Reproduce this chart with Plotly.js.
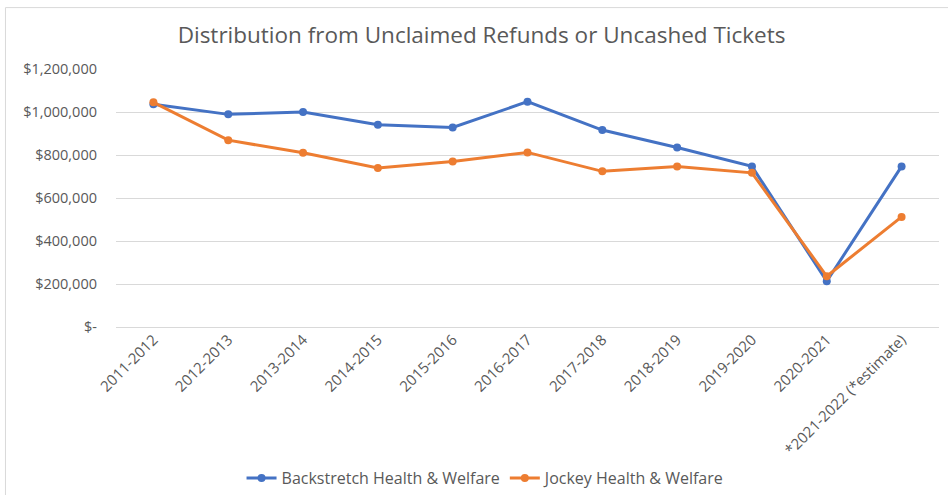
<!DOCTYPE html>
<html>
<head>
<meta charset="utf-8">
<script src="https://cdn.plot.ly/plotly-3.0.1.min.js"></script>
<style>
html,body{margin:0;padding:0;background:#fff;}
#chart{width:948px;height:495px;}
</style>
</head>
<body>
<div id="chart"></div>
<script>
const categories = ["2011-2012","2012-2013","2013-2014","2014-2015","2015-2016","2016-2017","2017-2018","2018-2019","2019-2020","2020-2021","*2021-2022 (*estimate)"];
const backstretch = [1036000, 989000, 1000000, 941000, 928000, 1048000, 916000, 835000, 747000, 213000, 747000];
const jockey = [1045000, 869000, 810000, 740000, 770000, 812000, 724000, 747000, 717000, 236000, 512000];
const seriesNames = ["Backstretch Health & Welfare", "Jockey Health & Welfare"];
const yTickVals = [0, 200000, 400000, 600000, 800000, 1000000, 1200000];
const yTickText = yTickVals.map(v => v === 0 ? "$-" : "$" + v.toLocaleString("en-US"));

const font = "Open Sans, Noto Sans, sans-serif";
const gray = "#595959";

const traces = [
  {x: categories, y: backstretch, name: seriesNames[0], type: "scatter", mode: "lines+markers",
   line: {color: "#4472C4", width: 3}, marker: {color: "#4472C4", size: 8}},
  {x: categories, y: jockey, name: seriesNames[1], type: "scatter", mode: "lines+markers",
   line: {color: "#ED7D31", width: 3}, marker: {color: "#ED7D31", size: 8}}
];

const layout = {
  width: 948, height: 495,
  margin: {l: 116, r: 9, t: 69, b: 168},
  paper_bgcolor: "#fff", plot_bgcolor: "#fff",
  font: {family: font, color: gray},
  title: {text: "Distribution from Unclaimed Refunds or Uncashed Tickets",
          font: {size: 22.5, color: gray, family: font},
          x: 0.508, xanchor: "center", xref: "container", y: 0.929, yref: "container", yanchor: "middle"},
  xaxis: {type: "category", tickangle: -45, showgrid: false, showline: false, zeroline: false,
          ticks: "", tickfont: {size: 15, color: gray}, automargin: false, range: [-0.5, 10.5]},
  yaxis: {range: [0, 1200000], tickvals: yTickVals, ticktext: yTickText, showgrid: true,
          gridcolor: "#d9d9d9", gridwidth: 1, zeroline: true, zerolinecolor: "#d9d9d9", zerolinewidth: 1,
          showline: false, ticks: "", tickfont: {size: 14.5, color: gray}, ticklabelstandoff: 18, automargin: false},
  showlegend: true,
  legend: {orientation: "h", xref: "container", yref: "container", x: 0.5127, xanchor: "center",
           y: 0.034, yanchor: "middle",
           font: {size: 16, color: gray, family: font}, itemwidth: 30, traceorder: "normal"},
  shapes: [{type: "rect", xref: "paper", yref: "paper", x0: -0.1343, x1: 1.05, y0: -0.8, y1: 1.238,
            line: {color: "#d9d9d9", width: 1}, fillcolor: "rgba(0,0,0,0)", layer: "below"}]
};

Plotly.newPlot("chart", traces, layout, {displayModeBar: false, staticPlot: true});
</script>
</body>
</html>
